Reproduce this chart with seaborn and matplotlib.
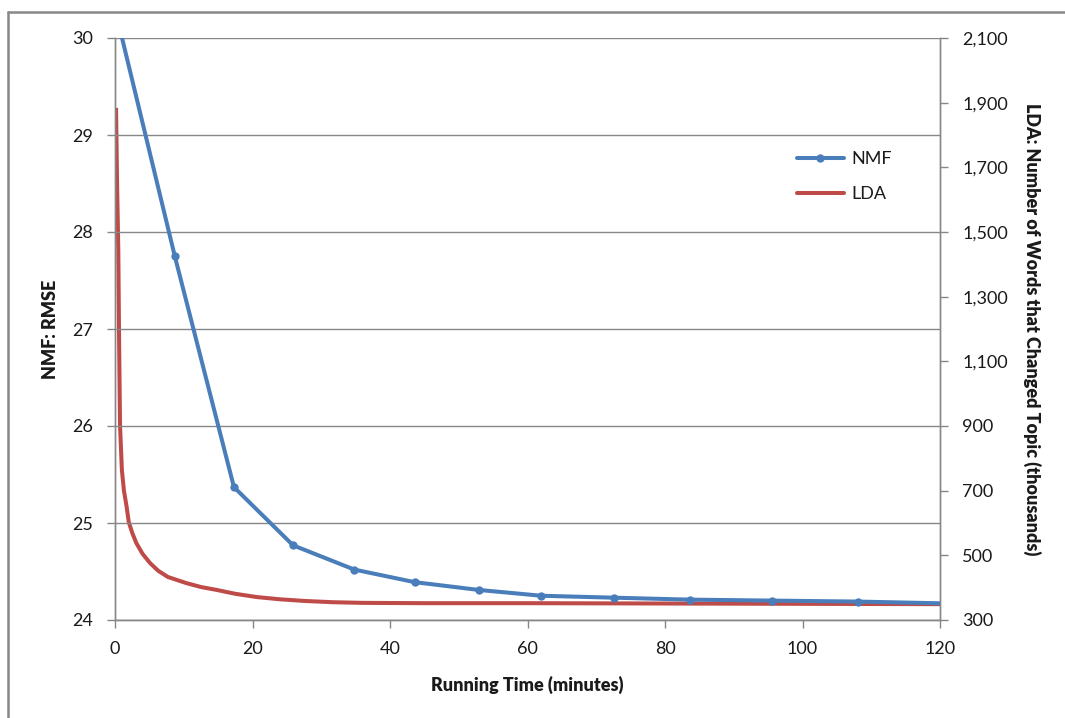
import matplotlib
matplotlib.use("Agg")
import matplotlib.pyplot as plt
import seaborn as sns
import pandas as pd
from matplotlib.lines import Line2D
from matplotlib.ticker import FuncFormatter

# ---- data ----
nmf_time = [0.0, 8.7, 17.3, 25.9, 34.8, 43.6, 52.9, 62.0, 72.6, 83.6, 95.6, 108.1, 121.5]
nmf_rmse = [30.3, 27.75, 25.37, 24.77, 24.52, 24.39, 24.31, 24.25, 24.23, 24.21, 24.20, 24.19, 24.17]

lda_time = [0.15, 0.3, 0.48, 0.58, 0.73, 1.0, 1.3, 1.7, 2.0, 2.5, 3.1, 4.0, 5.1, 6.3, 7.7,
            10.4, 12.5, 14.8, 17.5, 20.6, 24.0, 27.5, 31.7, 36.0, 45.0, 60.0, 80.0, 100.0, 120.0]
lda_words = [1884, 1650, 1444, 1200, 903, 764, 700, 649, 603, 570, 538, 505, 476, 452, 433,
             414, 402, 393, 381, 371, 364, 359, 355, 353, 352, 352, 351, 350, 349]

x_ticks = [0, 20, 40, 60, 80, 100, 120]
left_ticks = [24, 25, 26, 27, 28, 29, 30]
right_ticks = [300, 500, 700, 900, 1100, 1300, 1500, 1700, 1900, 2100]

blue = "#4A7EBB"
red = "#BE4B48"
grid_c = "#878787"
text_c = "#1a1a1a"

sns.set_theme(style="white")
plt.rcParams["font.family"] = ["Lato", "DejaVu Sans"]

fig = plt.figure(figsize=(10.65, 7.18), dpi=100)
W, H = 1065, 718
ax = fig.add_axes([115 / W, 1 - 620 / H, (940 - 115) / W, (620 - 38) / H])
ax2 = ax.twinx()

df_nmf = pd.DataFrame({"t": nmf_time, "v": nmf_rmse})
df_lda = pd.DataFrame({"t": lda_time, "v": lda_words})

sns.lineplot(data=df_lda, x="t", y="v", ax=ax2, color=red, linewidth=2.9, legend=False,
             solid_capstyle="butt", zorder=2)
sns.lineplot(data=df_nmf, x="t", y="v", ax=ax, color=blue, linewidth=2.9, marker="o",
             markersize=6, markeredgewidth=0, legend=False, zorder=3)

# draw nmf above twin axes
ax.set_zorder(ax2.get_zorder() + 1)
ax.patch.set_visible(False)

ax.set_xlim(0, 120)
ax.set_ylim(24, 30)
ax2.set_ylim(300, 2100)
ax.set_xticks(x_ticks)
ax.set_yticks(left_ticks)
ax2.set_yticks(right_ticks)
ax2.yaxis.set_major_formatter(FuncFormatter(lambda v, p: f"{int(v):,}"))

ax.yaxis.grid(True, color=grid_c, linewidth=1.0)
ax.xaxis.grid(False)
ax2.grid(False)

for a in (ax, ax2):
    for s in a.spines.values():
        s.set_color(grid_c)
        s.set_linewidth(1.0)
    a.spines["top"].set_visible(False)

ax.tick_params(axis="both", which="major", direction="out", length=6, width=1,
               color=grid_c, labelsize=13, labelcolor=text_c)
ax.tick_params(axis="x", pad=9)
ax.tick_params(axis="y", pad=10, left=True)
ax.tick_params(axis="x", bottom=True)
ax2.tick_params(axis="y", direction="out", length=6, width=1, color=grid_c,
                labelsize=13, labelcolor=text_c, pad=10, right=True)

ax.set_xlabel("Running Time (minutes)", fontsize=13, fontweight="heavy", labelpad=14,
              color=text_c)
ax.set_ylabel("NMF: RMSE", fontsize=13, fontweight="heavy", labelpad=9, color=text_c)
ax2.set_ylabel("LDA: Number of Words that Changed Topic (thousands)", fontsize=13,
               fontweight="heavy", rotation=270, labelpad=24, color=text_c)

handles = [Line2D([], [], color=blue, lw=2.9, marker="o", markersize=6, markeredgewidth=0),
           Line2D([], [], color=red, lw=2.9)]
leg = fig.legend(handles, ["NMF", "LDA"], loc="upper left",
                 bbox_to_anchor=(797 / W, 1 - 151 / H), frameon=False, fontsize=13,
                 borderpad=0, borderaxespad=0, handlelength=2.6, handletextpad=0.4,
                 labelspacing=1.05)
for t in leg.get_texts():
    t.set_color(text_c)

# outer chart border (top and left visible)
fig.add_artist(Line2D([8 / W, 8 / W], [0, 1 - 12 / H], transform=fig.transFigure,
                      color="#878787", lw=1.8))
fig.add_artist(Line2D([8 / W, 1], [1 - 12 / H, 1 - 12 / H], transform=fig.transFigure,
                      color="#878787", lw=1.8))

fig.savefig("out.png", dpi=100)
